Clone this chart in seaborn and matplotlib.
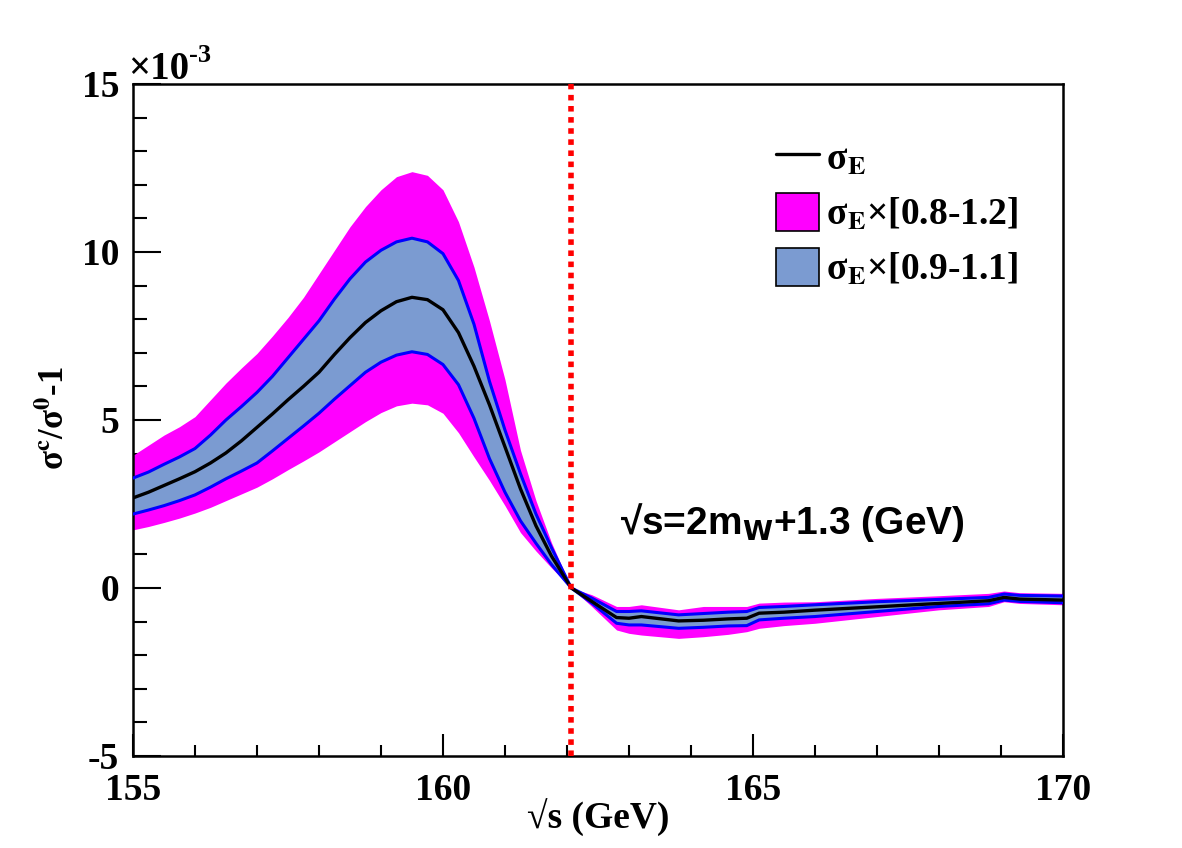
import numpy as np
import pandas as pd
import matplotlib
matplotlib.use("Agg")
import matplotlib.pyplot as plt
from matplotlib.lines import Line2D
from matplotlib.patches import Patch
from matplotlib.ticker import MultipleLocator, FuncFormatter
import seaborn as sns

# ---- data (values in units of 1e-3) ----
sqrt_s = [155.0, 155.25, 155.5, 155.75, 156.0, 156.25, 156.5, 156.75, 157.0, 157.25,
          157.5, 157.75, 158.0, 158.25, 158.5, 158.75, 159.0, 159.25, 159.5, 159.75,
          160.0, 160.25, 160.5, 160.75, 161.0, 161.25, 161.5, 161.75, 162.07,
          162.4, 162.8, 163.0, 163.2, 163.8, 164.2, 164.6, 164.9, 165.1,
          165.5, 166.0, 167.0, 168.0, 168.8, 169.05, 169.3, 170.0]
central = [2.68, 2.85, 3.05, 3.25, 3.46, 3.72, 4.02, 4.38, 4.78, 5.18,
           5.6, 6.0, 6.42, 6.95, 7.45, 7.9, 8.25, 8.52, 8.65, 8.58,
           8.28, 7.6, 6.6, 5.45, 4.2, 2.95, 1.85, 0.95, 0.0,
           -0.4, -0.88, -0.9, -0.85, -0.98, -0.96, -0.92, -0.9, -0.75,
           -0.72, -0.66, -0.56, -0.46, -0.38, -0.28, -0.33, -0.36]
band09_hi = [3.27, 3.45, 3.68, 3.9, 4.15, 4.55, 5.0, 5.4, 5.82, 6.3,
             6.85, 7.4, 7.95, 8.6, 9.2, 9.7, 10.05, 10.3, 10.41, 10.3,
             9.95, 9.15, 7.85, 6.15, 4.7, 3.4, 2.2, 1.2, 0.0,
             -0.3, -0.7, -0.7, -0.68, -0.8, -0.76, -0.72, -0.7, -0.58,
             -0.55, -0.5, -0.41, -0.34, -0.28, -0.18, -0.22, -0.24]
band09_lo = [2.2, 2.32, 2.45, 2.6, 2.77, 3.0, 3.25, 3.48, 3.72, 4.08,
             4.45, 4.82, 5.2, 5.62, 6.02, 6.42, 6.72, 6.93, 7.03, 6.95,
             6.65, 6.05, 5.05, 3.85, 2.85, 2.0, 1.33, 0.7, 0.0,
             -0.45, -1.05, -1.1, -1.1, -1.2, -1.17, -1.13, -1.12, -0.95,
             -0.9, -0.85, -0.7, -0.55, -0.47, -0.36, -0.4, -0.44]
band08_hi = [3.95, 4.25, 4.55, 4.8, 5.1, 5.6, 6.1, 6.55, 6.98, 7.5,
             8.05, 8.65, 9.35, 10.05, 10.75, 11.35, 11.85, 12.24, 12.39, 12.28,
             11.85, 10.9, 9.55, 7.95, 6.2, 4.1, 2.6, 1.35, 0.0,
             -0.2, -0.55, -0.55, -0.5, -0.65, -0.55, -0.55, -0.55, -0.45,
             -0.42, -0.41, -0.31, -0.23, -0.16, -0.09, -0.14, -0.16]
band08_lo = [1.73, 1.83, 1.95, 2.08, 2.23, 2.4, 2.6, 2.8, 3.0, 3.25,
             3.52, 3.78, 4.05, 4.35, 4.65, 4.95, 5.22, 5.42, 5.5, 5.45,
             5.2, 4.62, 3.9, 3.2, 2.45, 1.65, 1.1, 0.6, 0.0,
             -0.55, -1.25, -1.35, -1.4, -1.5, -1.45, -1.38, -1.3, -1.2,
             -1.12, -1.05, -0.85, -0.65, -0.55, -0.41, -0.46, -0.5]
threshold = 162.07
legend_labels = [r"σ$_{\mathbf{E}}$", r"σ$_{\mathbf{E}}$×[0.8-1.2]", r"σ$_{\mathbf{E}}$×[0.9-1.1]"]

df = pd.DataFrame({"x": sqrt_s, "c": central, "bh": band09_hi, "bl": band09_lo,
                   "mh": band08_hi, "ml": band08_lo})

sns.set_style("white")
plt.rcParams["font.family"] = ["Liberation Serif", "DejaVu Serif"]
plt.rcParams["font.weight"] = "bold"
for k in ["text.color", "axes.labelcolor", "xtick.color", "ytick.color", "axes.edgecolor"]:
    plt.rcParams[k] = "black"
plt.rcParams["lines.solid_joinstyle"] = "round"

fig = plt.figure(figsize=(11.82, 8.48), dpi=100)
ax = fig.add_axes([0.1125, 0.1085, 0.7868, 0.7925])

MAG = "#ff00ff"
BLUEFILL = "#7b9bd1"

ax.fill_between(df["x"], df["ml"], df["mh"], color=MAG, lw=0, zorder=1)
ax.fill_between(df["x"], df["bl"], df["bh"], color=BLUEFILL, lw=0, zorder=2)
sns.lineplot(data=df, x="x", y="bh", ax=ax, color="#0000ff", lw=2.2, zorder=3, sort=False)
sns.lineplot(data=df, x="x", y="bl", ax=ax, color="#0000ff", lw=2.2, zorder=3, sort=False)
sns.lineplot(data=df, x="x", y="c", ax=ax, color="black", lw=2.4, zorder=4, sort=False)

ax.axvline(threshold, color="#ff0000", lw=4, ls=(0, (1, 1)), zorder=5)

ax.set_xlim(155, 170)
ax.set_ylim(-5, 15)
ax.xaxis.set_major_locator(MultipleLocator(5))
ax.xaxis.set_minor_locator(MultipleLocator(1))
ax.yaxis.set_major_locator(MultipleLocator(5))
ax.yaxis.set_minor_locator(MultipleLocator(1))
ax.yaxis.set_major_formatter(FuncFormatter(lambda v, p: f"{v:g}"))
ax.tick_params(axis="both", which="both", direction="in", top=False, right=False,
               bottom=True, left=True, width=1.5, labelsize=27, colors="black")
ax.tick_params(axis="y", which="major", length=20, pad=10)
ax.tick_params(axis="y", which="minor", length=10)
ax.tick_params(axis="x", which="major", length=16, pad=12)
ax.tick_params(axis="x", which="minor", length=8)
for lab in ax.get_xticklabels() + ax.get_yticklabels():
    lab.set_fontweight("bold")
for s in ax.spines.values():
    s.set_linewidth(1.8)
    s.set_color("black")

ax.set_xlabel("√s (GeV)", fontsize=27, fontweight="bold", labelpad=-6)
ax.set_ylabel(r"σ$^{\mathbf{c}}$/σ$^{\mathbf{0}}$-1", fontsize=25, fontweight="bold",
              math_fontfamily="stix")
ax.yaxis.set_label_coords(-0.066, 0.503)

# x10^-3 multiplier
t1 = ax.text(-0.005, 1.007, "×10", transform=ax.transAxes, fontsize=28,
             fontweight="bold", ha="left", va="baseline")
fig.canvas.draw()
bb = t1.get_window_extent()
x_end_axes = ax.transAxes.inverted().transform((bb.x1, bb.y1))[0]
ax.text(x_end_axes, 1.042, "-3", transform=ax.transAxes, fontsize=19,
        fontweight="bold", ha="left", va="center")

ax.text(165.63, 1.96, r"√s=2m$_{\mathbf{W}}$+1.3 (GeV)", fontsize=28, fontweight="bold",
        family=["Liberation Sans", "DejaVu Sans"], math_fontfamily="dejavusans",
        ha="center", va="center")

handles = [Line2D([0], [0], color="black", lw=2.4),
           Patch(facecolor=MAG, edgecolor="black", lw=1.2),
           Patch(facecolor=BLUEFILL, edgecolor="black", lw=1.2)]
leg = ax.legend(handles, legend_labels, loc="upper left", bbox_to_anchor=(0.655, 0.97),
                frameon=False, handlelength=1.15, handleheight=1.2, handletextpad=0.2,
                labelspacing=0.4, prop={"size": 27, "weight": "bold",
                                        "family": ["Liberation Serif", "DejaVu Serif"],
                                        "math_fontfamily": "stix"})

fig.savefig("out.png", dpi=100, facecolor="white")
